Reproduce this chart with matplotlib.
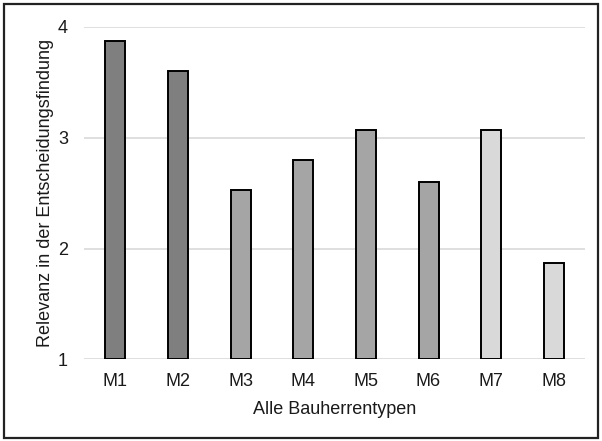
import matplotlib
matplotlib.use("Agg")
import matplotlib.pyplot as plt
from matplotlib.patches import Rectangle

categories = ["M1", "M2", "M3", "M4", "M5", "M6", "M7", "M8"]
values = [3.87, 3.60, 2.53, 2.80, 3.07, 2.60, 3.07, 1.87]
colors = ["#7f7f7f", "#7f7f7f", "#a5a5a5", "#a5a5a5", "#a5a5a5", "#a5a5a5", "#d9d9d9", "#d9d9d9"]
yticks = [1, 2, 3, 4]

plt.rcParams['font.family'] = ['Liberation Sans', 'DejaVu Sans']
txt = "#1a1a1a"

fig = plt.figure(figsize=(6.02, 4.41), dpi=100)
ax = fig.add_axes([0.1395, 0.1853, 0.8325, 0.7535])

x = list(range(len(categories)))
ax.bar(x, [v - 1 for v in values], bottom=1, width=0.32, color=colors,
       edgecolor="black", linewidth=1.4, zorder=3)

ax.set_xlim(-0.5, len(categories) - 0.5)
ax.set_ylim(1, 4)
ax.set_yticks(yticks)
ax.set_yticklabels([str(t) for t in yticks])
ax.set_xticks(x)
ax.set_xticklabels(categories)
ax.yaxis.grid(True, color="#d9d9d9", linewidth=1.2, zorder=0)
ax.set_axisbelow(True)
for s in ax.spines.values():
    s.set_visible(False)
ax.tick_params(axis="both", length=0, labelsize=13, colors=txt)
ax.tick_params(axis="y", pad=11.5)
ax.tick_params(axis="x", pad=10)
ax.set_xlabel("Alle Bauherrentypen", fontsize=13, labelpad=8, color=txt)
ax.set_ylabel("Relevanz in der Entscheidungsfindung", fontsize=13, labelpad=3, color=txt)

fig.patches.append(Rectangle((0.006, 0.006), 0.988, 0.984, transform=fig.transFigure,
                             fill=False, edgecolor="#222222", linewidth=1.6))

fig.savefig("out.png", dpi=100)
